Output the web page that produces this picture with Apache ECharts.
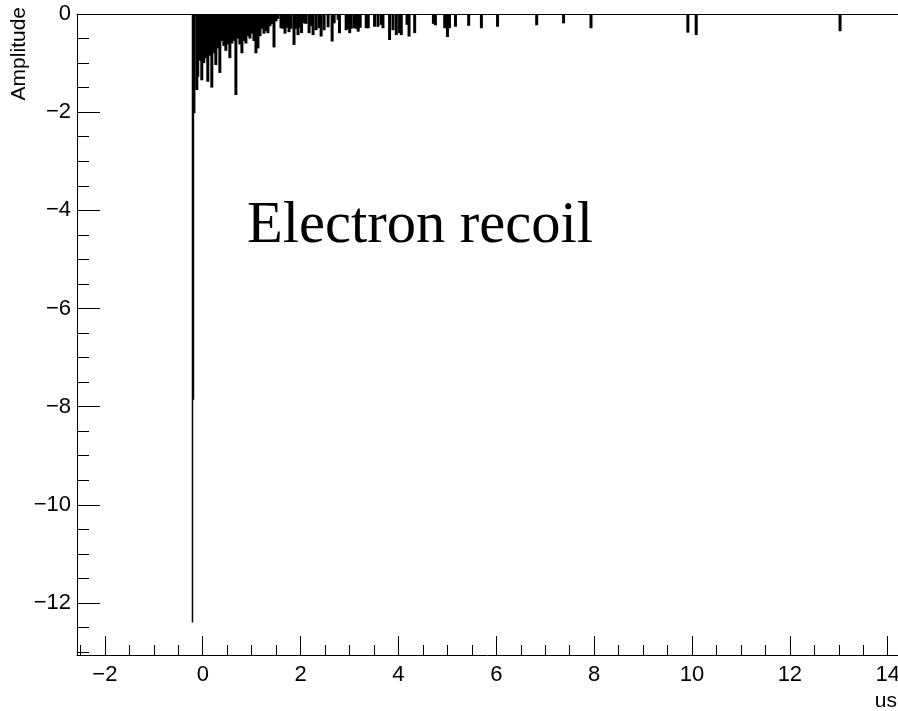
<!DOCTYPE html>
<html>
<head>
<meta charset="utf-8">
<script src="https://cdn.jsdelivr.net/npm/echarts@6/dist/echarts.min.js"></script>
<style>
  html, body { margin: 0; padding: 0; background: #fff; }
  #chart { width: 898px; height: 711px; }
</style>
</head>
<body>
<div id="chart"></div>
<script>
// main pulse (us, amplitude)
const pulseTimes = [-0.21, -0.19, -0.165];
const pulseAmps = [-12.4, -7.86, -2.02];

// tail after the pulse
const tailTimes = [
  -0.137, -0.117, -0.076, -0.035, 0.006, 0.047, 0.088, 0.129, 0.170, 0.211,
  0.252, 0.293, 0.334, 0.375, 0.416, 0.457, 0.498, 0.539, 0.580, 0.621,
  0.662, 0.703, 0.744, 0.785, 0.826, 0.867, 0.908, 0.949, 0.990, 1.031,
  1.072, 1.113, 1.154, 1.195, 1.236, 1.277, 1.318, 1.359, 1.400, 1.441,
  1.482, 1.523, 1.584, 1.625, 1.666, 1.707, 1.748, 1.789, 1.850, 1.891,
  1.932, 1.973, 2.004, 2.055, 2.096, 2.158, 2.199, 2.240, 2.301, 2.363,
  2.404, 2.465, 2.547, 2.629, 2.670, 2.752, 2.779, 2.916, 2.957, 2.988,
  3.018, 3.080, 3.121, 3.162, 3.203, 3.326, 3.367, 3.496, 3.566, 3.633,
  3.668, 3.803, 3.873, 3.941, 4.008, 4.043, 4.160, 4.201, 4.316, 4.699,
  4.740, 4.930, 4.986, 5.027, 5.15, 5.42, 5.68, 6.01, 6.81, 7.36,
  7.92, 9.90, 10.07, 13.01
];
const tailAmps = [
  -1.55, -1.28, -0.95, -1.35, -1.00, -0.90, -1.38, -0.85, -1.50, -0.80,
  -1.04, -0.70, -1.20, -0.55, -0.65, -0.75, -0.62, -0.90, -0.60, -0.55,
  -1.65, -0.50, -0.62, -0.80, -0.55, -0.60, -0.45, -0.50, -0.40, -0.55,
  -0.80, -0.70, -0.45, -0.30, -0.40, -0.35, -0.39, -0.25, -0.20, -0.68,
  -0.15, -0.10, -0.29, -0.30, -0.40, -0.28, -0.37, -0.30, -0.63, -0.30,
  -0.43, -0.28, -0.39, -0.19, -0.20, -0.39, -0.25, -0.43, -0.33, -0.29,
  -0.46, -0.33, -0.27, -0.56, -0.19, -0.12, -0.39, -0.33, -0.30, -0.39,
  -0.30, -0.29, -0.30, -0.36, -0.28, -0.29, -0.29, -0.26, -0.26, -0.22,
  -0.29, -0.53, -0.33, -0.43, -0.39, -0.43, -0.22, -0.46, -0.39, -0.20,
  -0.23, -0.29, -0.47, -0.29, -0.26, -0.24, -0.29, -0.26, -0.23, -0.19,
  -0.29, -0.38, -0.43, -0.35
];

const xTickLabels = [-2, 0, 2, 4, 6, 8, 10, 12, 14];
const yTickLabels = [-12, -10, -8, -6, -4, -2, 0];

const xMin = -2.57, xMax = 14.21;
const yMin = -13.06, yMax = 0;

// minor ticks every 0.5
const xMinor = [];
for (let v = -2.5; v <= 14.01; v += 0.5) xMinor.push(+v.toFixed(1));
const yMinor = [];
for (let v = -13; v <= 0.01; v += 0.5) yMinor.push(+v.toFixed(1));

const black = '#000';
const fontSans = 'Liberation Sans';

function fmt(v) {
  return v < 0 ? '\u2212' + Math.abs(v) : String(v);
}

const chart = echarts.init(document.getElementById('chart'));

const option = {
  animation: false,
  backgroundColor: '#fff',
  grid: { left: 77, right: 0, top: 14, bottom: 56, containLabel: false, outerBoundsMode: 'none' },
  xAxis: [
    {
      type: 'value', min: xMin, max: xMax, position: 'bottom',
      axisLine: { show: true, onZero: false, lineStyle: { color: black, width: 1 } },
      axisTick: { show: true, inside: true, length: 19, customValues: xTickLabels, lineStyle: { color: black } },
      axisLabel: { customValues: xTickLabels, formatter: fmt, color: black, fontSize: 22, fontFamily: fontSans, margin: 9 },
      splitLine: { show: false }
    },
    {
      type: 'value', min: xMin, max: xMax, position: 'bottom',
      axisLine: { show: false, onZero: false },
      axisTick: { show: true, inside: true, length: 10, customValues: xMinor, lineStyle: { color: black } },
      axisLabel: { show: false },
      splitLine: { show: false }
    },
    {
      type: 'value', min: xMin, max: xMax, position: 'top',
      axisLine: { show: true, onZero: false, lineStyle: { color: black, width: 1 } },
      axisTick: { show: false },
      axisLabel: { show: false },
      splitLine: { show: false }
    }
  ],
  yAxis: [
    {
      type: 'value', min: yMin, max: yMax, position: 'left',
      axisLine: { show: true, onZero: false, lineStyle: { color: black, width: 1 } },
      axisTick: { show: true, inside: true, length: 23, customValues: yTickLabels, lineStyle: { color: black } },
      axisLabel: { customValues: yTickLabels, formatter: fmt, color: black, fontSize: 22, fontFamily: fontSans, margin: 6 },
      splitLine: { show: false }
    },
    {
      type: 'value', min: yMin, max: yMax, position: 'left',
      axisLine: { show: false, onZero: false },
      axisTick: { show: true, inside: true, length: 12, customValues: yMinor, lineStyle: { color: black } },
      axisLabel: { show: false },
      splitLine: { show: false }
    }
  ],
  series: [
    {
      type: 'bar', xAxisIndex: 0, yAxisIndex: 0,
      barWidth: 3, barGap: '-100%',
      itemStyle: { color: black },
      data: tailTimes.map((t, i) => [t, tailAmps[i]])
    },
    {
      type: 'bar', xAxisIndex: 0, yAxisIndex: 0,
      barWidth: 1.5, barGap: '-100%',
      itemStyle: { color: black },
      data: pulseTimes.map((t, i) => [t, pulseAmps[i]])
    }
  ],
  graphic: [
    {
      type: 'text', x: 19, y: 7, rotation: Math.PI / 2,
      style: { text: 'Amplitude', fill: black, font: '21px "Liberation Sans"', align: 'right', verticalAlign: 'middle' }
    },
    {
      type: 'text', x: 897, y: 701,
      style: { text: 'us', fill: black, font: '21px "Liberation Sans"', align: 'right', verticalAlign: 'middle' }
    },
    {
      type: 'text', x: 247, y: 227,
      style: { text: 'Electron recoil', fill: black, font: '58.5px "Liberation Serif"', align: 'left', verticalAlign: 'middle' }
    }
  ]
};

chart.setOption(option);
</script>
</body>
</html>
